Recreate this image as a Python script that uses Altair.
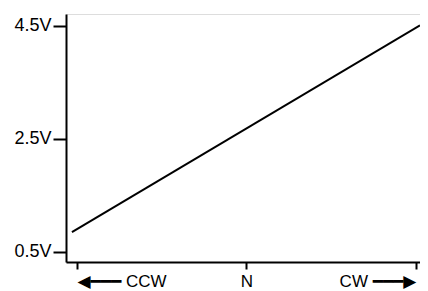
import altair as alt
import pandas as pd

# knob position (CCW = -1, N = 0, CW = 1) and output voltage
position = [-1.03, 1.024]
voltage = [0.85, 4.51]

x_ticks = [-1, 0, 1]
x_labels = ["◀━━━ CCW", "N", "CW ━━━▶"]
y_ticks = [0.5, 2.5, 4.5]

df = pd.DataFrame({"pos": position, "v": voltage})

label_expr = (
    f"datum.value < 0 ? '{x_labels[0]}' : datum.value > 0 ? '{x_labels[2]}' : '{x_labels[1]}'"
)

FONT = "Liberation Sans, Arial, DejaVu Sans"

chart = (
    alt.Chart(df)
    .mark_line(color="black", strokeWidth=2, clip=False)
    .encode(
        x=alt.X(
            "pos:Q",
            scale=alt.Scale(domain=[-1.065, 1.024], nice=False, zero=False),
            axis=alt.Axis(
                title=None,
                values=x_ticks,
                labelExpr=label_expr,
                labelAlign=alt.expr(
                    "datum.value < 0 ? 'left' : datum.value > 0 ? 'right' : 'center'"
                ),
                grid=False,
                domainColor="black",
                domainWidth=2,
                tickColor="black",
                tickWidth=2,
                tickSize=7,
                labelPadding=4,
                labelFont=FONT,
                labelFontSize=17,
                labelColor="black",
                labelFlush=False,
                labelOverlap=False,
            ),
        ),
        y=alt.Y(
            "v:Q",
            scale=alt.Scale(domain=[0.323, 4.71], nice=False, zero=False),
            axis=alt.Axis(
                title=None,
                values=y_ticks,
                labelExpr="format(datum.value, '.1f') + 'V'",
                grid=False,
                domainColor="black",
                domainWidth=2,
                tickColor="black",
                tickWidth=2,
                tickSize=13,
                labelPadding=2,
                labelFont=FONT,
                labelFontSize=18,
                labelColor="black",
                labelFlush=False,
                labelOverlap=False,
            ),
        ),
    )
    .properties(
        width=354,
        height=248,
        padding={"left": 58, "top": 6, "right": 0, "bottom": 28},
        autosize=alt.AutoSizeParams(type="none"),
    )
    .configure_view(stroke=None)
    .configure(background="white")
)

chart.save("out.html", embed_options={"renderer": "svg", "actions": False})
